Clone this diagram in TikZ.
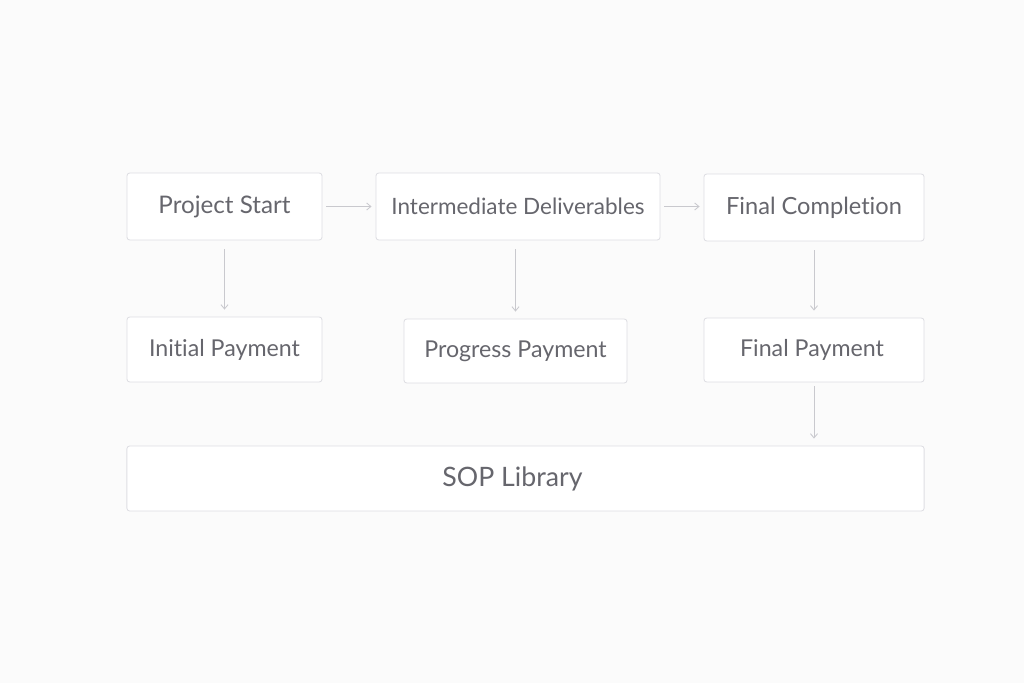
\documentclass[tikz,border=0pt]{standalone}
\usepackage{fontspec}
\setmainfont{Lato}[Ligatures = NoCommon]
\usetikzlibrary{arrows.meta}
\begin{document}
\begin{tikzpicture}[x=0.025cm, y=-0.025cm]
\definecolor{bg}{HTML}{FBFBFB}
\definecolor{edge}{HTML}{DEDEE3}
\definecolor{txt}{HTML}{66666D}
\definecolor{link}{HTML}{C9C9CE}
\tikzset{
  stagebox/.style = {draw = edge, line width = 0.6pt, rounded corners = 2pt, fill = white, text = txt, font = \fontsize{16.5pt}{19pt}\selectfont, inner sep = 0pt},
  flow/.style = {draw = link, line width = 0.6pt, -{Straight Barb[length = 3pt, width = 5pt]}}
}
\fill[bg] (0, 0) rectangle (1024, 683);
\useasboundingbox (0, 0) rectangle (1024, 683);
% top row
\node[stagebox, minimum width = 4.875cm, minimum height = 1.675cm, font = \fontsize{17.2pt}{19pt}\selectfont] (start) at (224.5, 206.5) {Project Start};
\node[stagebox, minimum width = 7.1cm, minimum height = 1.675cm, font = \fontsize{16pt}{19pt}\selectfont] (inter) at (518, 206.5) {Intermediate Deliverables};
\node[stagebox, minimum width = 5.5cm, minimum height = 1.675cm, font = \fontsize{16.8pt}{19pt}\selectfont] (final) at (814, 207.5) {\raisebox{-2pt}{Final Completion}};
% payments
\node[stagebox, minimum width = 4.875cm, minimum height = 1.625cm] (initpay) at (224.5, 349.5) {Initial Payment};
\node[stagebox, minimum width = 5.575cm, minimum height = 1.6cm] (progpay) at (515.5, 351) {Progress Payment};
\node[stagebox, minimum width = 5.5cm, minimum height = 1.6cm] (finpay) at (814, 350) {Final Payment\kern0.1cm};
\node[stagebox, minimum width = 19.925cm, minimum height = 1.625cm, font = \fontsize{19pt}{22pt}\selectfont] (sop) at (525.5, 478.5) {SOP Library\kern0.65cm};
% connectors
\draw[flow, shorten < = 0.1cm, shorten > = 0.1cm] (start.east) -- (start.east -| inter.west);
\draw[flow, shorten < = 0.1cm, shorten > = 0.1cm] (inter.east) -- (inter.east -| final.west);
\draw[flow, shorten < = 0.225cm, shorten > = 0.175cm] (start.south) -- (start.south |- initpay.north);
\draw[flow, shorten < = 0.225cm, shorten > = 0.175cm] (progpay.north |- inter.south) -- (progpay.north);
\draw[flow, shorten < = 0.225cm, shorten > = 0.175cm] (final.south) -- (final.south |- finpay.north);
\draw[flow, shorten < = 0.1cm, shorten > = 0.175cm] (finpay.south) -- (finpay.south |- sop.north);
\end{tikzpicture}
\end{document}
